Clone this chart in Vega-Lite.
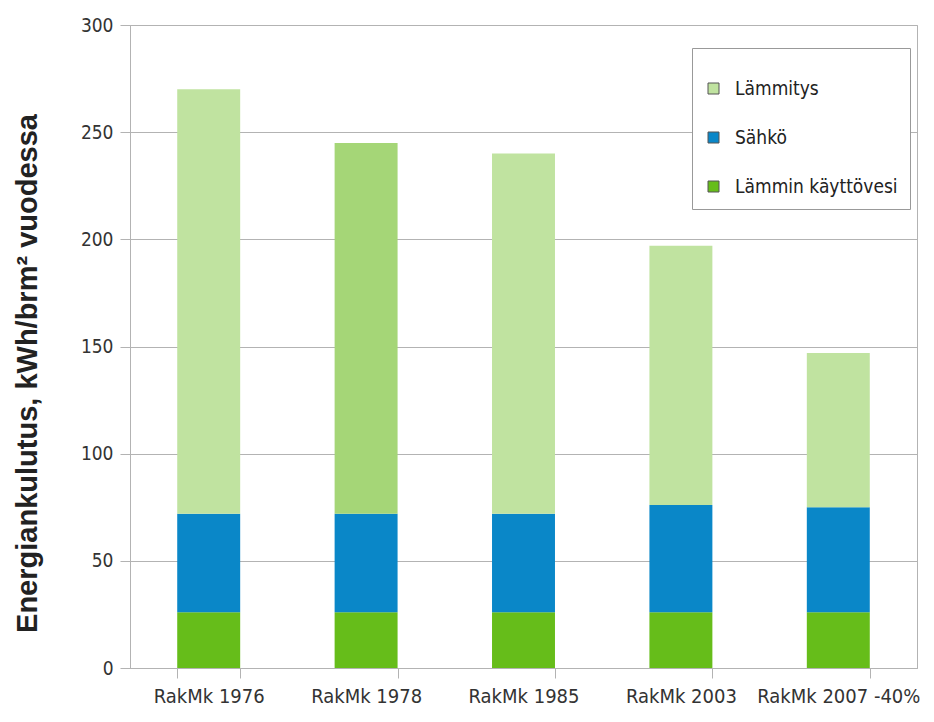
{
  "$schema": "https://vega.github.io/schema/vega-lite/v6.json",
  "width": 787,
  "height": 643,
  "autosize": {"type": "none"},
  "padding": {"left": 130, "top": 25, "right": 17, "bottom": 54},
  "background": "white",
  "config": {
    "view": {"stroke": "#b3b3b3", "strokeWidth": 1},
    "font": "DejaVu Sans Condensed"
  },
  "data": {
    "values": [
      {"category": "RakMk 1976", "series": "Lämmin käyttövesi", "value": 26},
      {"category": "RakMk 1976", "series": "Sähkö", "value": 46},
      {"category": "RakMk 1976", "series": "Lämmitys", "value": 198},
      {"category": "RakMk 1978", "series": "Lämmin käyttövesi", "value": 26},
      {"category": "RakMk 1978", "series": "Sähkö", "value": 46},
      {"category": "RakMk 1978", "series": "Lämmitys", "value": 173},
      {"category": "RakMk 1985", "series": "Lämmin käyttövesi", "value": 26},
      {"category": "RakMk 1985", "series": "Sähkö", "value": 46},
      {"category": "RakMk 1985", "series": "Lämmitys", "value": 168},
      {"category": "RakMk 2003", "series": "Lämmin käyttövesi", "value": 26},
      {"category": "RakMk 2003", "series": "Sähkö", "value": 50},
      {"category": "RakMk 2003", "series": "Lämmitys", "value": 121},
      {"category": "RakMk 2007 -40%", "series": "Lämmin käyttövesi", "value": 26},
      {"category": "RakMk 2007 -40%", "series": "Sähkö", "value": 49},
      {"category": "RakMk 2007 -40%", "series": "Lämmitys", "value": 72}
    ]
  },
  "transform": [
    {"calculate": "indexof(['Lämmin käyttövesi', 'Sähkö', 'Lämmitys'], datum.series)", "as": "stackRank"}
  ],
  "mark": {"type": "bar"},
  "encoding": {
    "x": {
      "field": "category",
      "type": "nominal",
      "sort": null,
      "scale": {"paddingInner": 0.6, "paddingOuter": 0.3},
      "axis": {
        "title": null,
        "labelAngle": 0,
        "labelFont": "DejaVu Sans Condensed",
        "labelFontSize": 20,
        "labelColor": "#333333",
        "labelPadding": 8,
        "tickBand": "extent",
        "tickSize": 10,
        "tickColor": "#b3b3b3",
        "domainColor": "#b3b3b3",
        "grid": false
      }
    },
    "y": {
      "field": "value",
      "type": "quantitative",
      "stack": "zero",
      "scale": {"domain": [0, 300], "nice": false},
      "axis": {
        "title": "Energiankulutus, kWh/brm² vuodessa",
        "titleFont": "Liberation Sans",
        "titleFontSize": 29,
        "titleFontWeight": "bold",
        "titleColor": "#222222",
        "titleAngle": -90,
        "titleAlign": "center",
        "titleBaseline": "middle",
        "titleX": -103,
        "titleY": 348,
        "values": [0, 50, 100, 150, 200, 250, 300],
        "labelFont": "DejaVu Sans Condensed",
        "labelFontSize": 19,
        "labelColor": "#333333",
        "labelPadding": 7,
        "tickSize": 10,
        "tickColor": "#b3b3b3",
        "domainColor": "#b3b3b3",
        "gridColor": "#b3b3b3"
      }
    },
    "color": {
      "condition": {
        "test": "datum.category === 'RakMk 1978' && datum.series === 'Lämmitys'",
        "value": "#a5d677"
      },
      "field": "series",
      "type": "nominal",
      "scale": {
        "domain": ["Lämmin käyttövesi", "Sähkö", "Lämmitys"],
        "range": ["#66bd1a", "#0a87c8", "#c0e3a0"]
      },
      "legend": {
        "title": " ",
        "titleFontSize": 9,
        "titlePadding": 10,
        "values": ["Lämmitys", "Sähkö", "Lämmin käyttövesi"],
        "orient": "none",
        "legendX": 562,
        "legendY": 23,
        "padding": 12,
        "strokeColor": "#999999",
        "fillColor": "white",
        "symbolType": "square",
        "symbolSize": 121,
        "symbolStrokeColor": "#555555",
        "symbolStrokeWidth": 1,
        "labelFont": "DejaVu Sans Condensed",
        "labelFontSize": 19,
        "labelColor": "#222222",
        "labelOffset": 12,
        "labelLimit": 300,
        "rowPadding": 29
      }
    },
    "order": {"field": "stackRank", "type": "quantitative", "sort": "ascending"}
  }
}
